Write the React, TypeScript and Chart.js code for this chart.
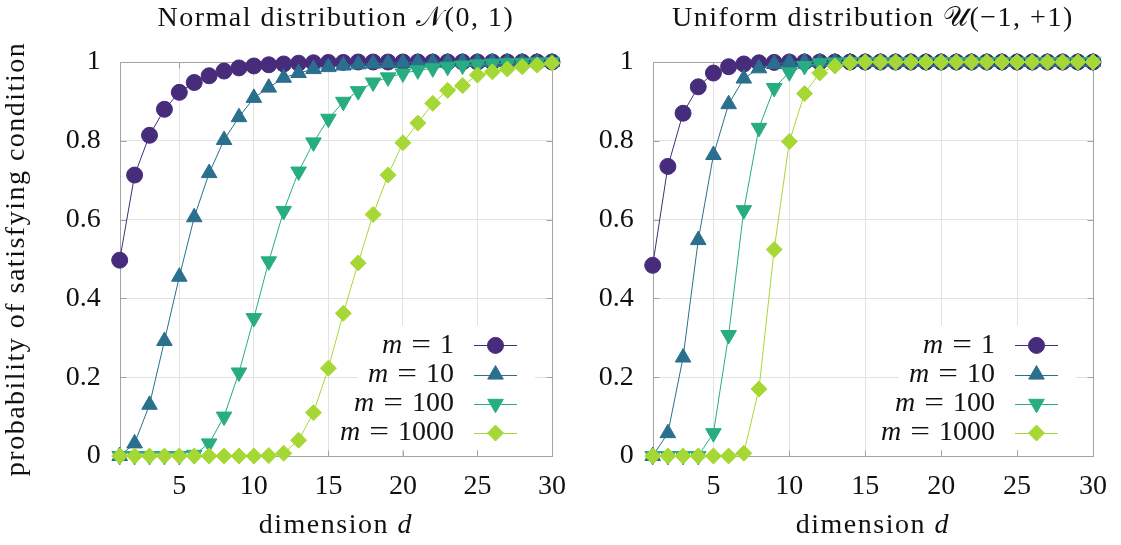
import React, { useEffect, useRef } from "react";
import { Chart, registerables } from "chart.js";

Chart.register(...registerables);

// ---------------- data ----------------
const dims = [1, 2, 3, 4, 5, 6, 7, 8, 9, 10, 11, 12, 13, 14, 15, 16, 17, 18, 19, 20, 21, 22, 23, 24, 25, 26, 27, 28, 29, 30];
const mLabels = ["1", "10", "100", "1000"];

const normalM1 = [0.497, 0.713, 0.814, 0.880, 0.923, 0.948, 0.965, 0.977, 0.985, 0.990, 0.993, 0.995, 0.997, 0.998, 0.999, 0.999, 1, 1, 1, 1, 1, 1, 1, 1, 1, 1, 1, 1, 1, 1];
const normalM10 = [0.0, 0.032, 0.130, 0.292, 0.455, 0.606, 0.718, 0.802, 0.860, 0.909, 0.935, 0.960, 0.972, 0.982, 0.987, 0.991, 0.994, 0.996, 0.997, 0.998, 0.999, 0.999, 1, 1, 1, 1, 1, 1, 1, 1];
const normalM100 = [0.0, 0.0, 0.0, 0.0, 0.0, 0.003, 0.032, 0.100, 0.212, 0.350, 0.494, 0.622, 0.722, 0.796, 0.856, 0.899, 0.926, 0.948, 0.961, 0.971, 0.979, 0.984, 0.988, 0.991, 0.994, 0.996, 0.997, 0.998, 0.999, 1.0];
const normalM1000 = [0.0, 0.0, 0.0, 0.0, 0.0, 0.0, 0.0, 0.0, 0.0, 0.0, 0.001, 0.007, 0.040, 0.110, 0.223, 0.362, 0.490, 0.613, 0.713, 0.795, 0.845, 0.895, 0.928, 0.940, 0.967, 0.975, 0.982, 0.988, 0.992, 0.997];

const uniformM1 = [0.484, 0.735, 0.870, 0.937, 0.972, 0.988, 0.995, 0.998, 0.999, 1, 1, 1, 1, 1, 1, 1, 1, 1, 1, 1, 1, 1, 1, 1, 1, 1, 1, 1, 1, 1];
const uniformM10 = [0.0, 0.058, 0.250, 0.548, 0.764, 0.893, 0.958, 0.984, 0.995, 0.999, 1, 1, 1, 1, 1, 1, 1, 1, 1, 1, 1, 1, 1, 1, 1, 1, 1, 1, 1, 1];
const uniformM100 = [0.0, 0.0, 0.0, 0.0, 0.058, 0.307, 0.624, 0.833, 0.934, 0.974, 0.990, 0.997, 0.999, 1, 1, 1, 1, 1, 1, 1, 1, 1, 1, 1, 1, 1, 1, 1, 1, 1];
const uniformM1000 = [0.0, 0.0, 0.0, 0.0, 0.0, 0.0, 0.007, 0.170, 0.524, 0.798, 0.920, 0.972, 0.990, 0.998, 1, 1, 1, 1, 1, 1, 1, 1, 1, 1, 1, 1, 1, 1, 1, 1];

const xTickValues = [5, 10, 15, 20, 25, 30];
const yTickValues = [0, 0.2, 0.4, 0.6, 0.8, 1];
const yTickLabels = ["0", "0.2", "0.4", "0.6", "0.8", "1"];

const normalTitle = "Normal distribution \u{1D4A9}(0, 1)";
const uniformTitle = "Uniform distribution \u{1D4B0}(\u22121, +1)";
const xTitleText = "dimension ";
const xTitleVar = "d";
const yTitleText = "probability of satisfying condition";

// ---------------- styles ----------------
const FONT = "'Times New Roman', 'Liberation Serif', Tinos, Times, serif";
const FS = 28;
const TEXT = "#111111";
const COLORS = ["#472c7b", "#2a6f8d", "#27ad81", "#a6d835"];
const STYLES = ["circle", "triangle", "triangle", "rectRot"];
const ROTATIONS = [0, 0, 180, 0];
const RADII = [8, 9, 9, 8];
const GRID = "#e2e2e2";
const FRAME = "#a3a3a3";

type PanelCfg = {
  title: string;
  series: number[][];
  showYTitle: boolean;
  yAxisWidth: number;
  padRight: number;
  width: number;
};

function drawMarker(ctx: CanvasRenderingContext2D, i: number, x: number, y: number) {
  const r = RADII[i];
  ctx.save();
  ctx.fillStyle = COLORS[i];
  ctx.strokeStyle = COLORS[i];
  ctx.lineWidth = 1;
  ctx.beginPath();
  const st = STYLES[i];
  if (st === "circle") {
    ctx.arc(x, y, r, 0, Math.PI * 2);
  } else if (st === "triangle") {
    const rot = (ROTATIONS[i] * Math.PI) / 180;
    for (let k = 0; k < 3; k++) {
      const a = rot + (k * 2 * Math.PI) / 3;
      const px = x + Math.sin(a) * r;
      const py = y - Math.cos(a) * r;
      if (k === 0) ctx.moveTo(px, py);
      else ctx.lineTo(px, py);
    }
    ctx.closePath();
  } else {
    ctx.moveTo(x, y - r);
    ctx.lineTo(x + r, y);
    ctx.lineTo(x, y + r);
    ctx.lineTo(x - r, y);
    ctx.closePath();
  }
  ctx.fill();
  ctx.stroke();
  ctx.restore();
}

const framePlugin = {
  id: "frameTicks",
  beforeDatasetsDraw(chart: any) {
    const { ctx, chartArea, scales } = chart;
    const { left, right, top, bottom } = chartArea;
    ctx.save();
    ctx.strokeStyle = FRAME;
    ctx.lineWidth = 1;
    const L = Math.round(left) + 0.5;
    const R = Math.round(right) + 0.5;
    const T = Math.round(top) + 0.5;
    const B = Math.round(bottom) + 0.5;
    ctx.strokeRect(L, T, R - L, B - T);
    ctx.beginPath();
    const tl = 6;
    xTickValues.forEach((v) => {
      const px = Math.round(scales.x.getPixelForValue(v)) + 0.5;
      ctx.moveTo(px, B);
      ctx.lineTo(px, B - tl);
      ctx.moveTo(px, T);
      ctx.lineTo(px, T + tl);
    });
    yTickValues.forEach((v) => {
      const py = Math.round(scales.y.getPixelForValue(v)) + 0.5;
      ctx.moveTo(L, py);
      ctx.lineTo(L + tl, py);
      ctx.moveTo(R, py);
      ctx.lineTo(R - tl, py);
    });
    ctx.stroke();
    ctx.restore();
  },
};

const legendPlugin = {
  id: "mLegend",
  afterDatasetsDraw(chart: any) {
    const { ctx, chartArea } = chart;
    const lineR = chartArea.right - 35;
    const lineL = lineR - 43;
    const markX = lineR - 21.5;
    const textR = chartArea.right - 98;
    const rowH = 29.2;
    const lastY = chartArea.bottom - 23;
    const gap = 9;
    ctx.save();
    ctx.textBaseline = "middle";
    ctx.textAlign = "right";
    const rows = mLabels.map((lab, i) => {
      const y = lastY - (mLabels.length - 1 - i) * rowH;
      ctx.font = `${FS}px ${FONT}`;
      const numW = ctx.measureText(lab).width;
      const eqW = ctx.measureText("=").width;
      ctx.font = `italic ${FS}px ${FONT}`;
      const mW = ctx.measureText("m").width;
      return { lab, y, numW, eqW, mW, total: numW + gap + eqW + gap + mW };
    });
    ctx.fillStyle = "#ffffff";
    rows.forEach((r, i) => {
      const t = i === 0 ? r.y - rowH / 2 - 5 : r.y - rowH / 2;
      const b = i === rows.length - 1 ? r.y + rowH / 2 + 2 : r.y + rowH / 2;
      const l = textR - r.total - 14;
      ctx.fillRect(l, t, lineR + 18 - l, b - t);
    });
    rows.forEach((r, i) => {
      ctx.fillStyle = TEXT;
      ctx.font = `${FS}px ${FONT}`;
      ctx.fillText(r.lab, textR, r.y);
      const eqR = textR - r.numW - gap;
      ctx.save();
      ctx.translate(eqR, r.y);
      ctx.scale(1.25, 1);
      ctx.fillText("=", 0, 0);
      ctx.restore();
      ctx.font = `italic ${FS}px ${FONT}`;
      ctx.fillText("m", eqR - r.eqW * 1.25 - gap, r.y);
      ctx.strokeStyle = COLORS[i];
      ctx.lineWidth = 1;
      ctx.beginPath();
      ctx.moveTo(lineL, Math.round(r.y) + 0.5);
      ctx.lineTo(lineR, Math.round(r.y) + 0.5);
      ctx.stroke();
      drawMarker(ctx, i, markX, r.y);
    });
    ctx.restore();
  },
};

function makeTitlesPlugin(title: string, showYTitle: boolean) {
  return {
    id: "titles",
    afterDraw(chart: any) {
      const { ctx, chartArea } = chart;
      const cx = (chartArea.left + chartArea.right) / 2;
      ctx.save();
      try {
        (ctx as any).letterSpacing = "1.5px";
      } catch (e) {}
      ctx.fillStyle = TEXT;
      ctx.textBaseline = "middle";
      ctx.textAlign = "center";
      ctx.font = `${FS}px ${FONT}`;
      ctx.fillText(title, cx, 19);
      ctx.textAlign = "left";
      const w1 = ctx.measureText(xTitleText).width;
      ctx.font = `italic ${FS}px ${FONT}`;
      const w2 = ctx.measureText(xTitleVar).width;
      const x0 = cx - (w1 + w2) / 2;
      ctx.font = `${FS}px ${FONT}`;
      ctx.fillText(xTitleText, x0, 526);
      ctx.font = `italic ${FS}px ${FONT}`;
      ctx.fillText(xTitleVar, x0 + w1, 526);
      if (showYTitle) {
        ctx.font = `${FS}px ${FONT}`;
        ctx.textAlign = "center";
        ctx.translate(17, (chartArea.top + chartArea.bottom) / 2);
        ctx.rotate(-Math.PI / 2);
        ctx.fillText(yTitleText, 0, 0);
      }
      ctx.restore();
    },
  };
}

function Panel({ cfg }: { cfg: PanelCfg }) {
  const ref = useRef<HTMLCanvasElement | null>(null);
  useEffect(() => {
    if (!ref.current) return;
    const datasets = cfg.series.map((s, i) => ({
      label: `m = ${mLabels[i]}`,
      data: dims.map((d, k) => ({ x: d, y: s[k] })),
      borderColor: COLORS[i],
      backgroundColor: COLORS[i],
      borderWidth: 1,
      pointStyle: STYLES[i] as any,
      pointRotation: ROTATIONS[i],
      pointRadius: RADII[i],
      pointBorderWidth: 1,
      pointBorderColor: COLORS[i],
      pointBackgroundColor: COLORS[i],
      tension: 0,
      clip: false as any,
      order: cfg.series.length - 1 - i,
    }));
    const chart = new Chart(ref.current, {
      type: "line",
      data: { datasets },
      options: {
        animation: false,
        responsive: false,
        devicePixelRatio: 1,
        events: [],
        layout: { padding: { top: 62, right: cfg.padRight, left: 0, bottom: 0 } },
        plugins: {
          legend: { display: false },
          title: { display: false },
          tooltip: { enabled: false },
        },
        scales: {
          x: {
            type: "linear",
            min: 1,
            max: 30,
            afterBuildTicks: (s: any) => {
              s.ticks = xTickValues.map((v) => ({ value: v }));
            },
            afterFit: (s: any) => {
              s.height = 89;
            },
            grid: { color: GRID, lineWidth: 1, drawTicks: false },
            border: { display: false },
            ticks: {
              font: { family: FONT, size: FS },
              color: TEXT,
              padding: 14,
              autoSkip: false,
              maxRotation: 0,
              callback: (v: any) => String(v),
            },
          },
          y: {
            type: "linear",
            min: 0,
            max: 1,
            afterBuildTicks: (s: any) => {
              s.ticks = yTickValues.map((v) => ({ value: v }));
            },
            afterFit: (s: any) => {
              s.width = cfg.yAxisWidth;
            },
            grid: { color: GRID, lineWidth: 1, drawTicks: false },
            border: { display: false },
            ticks: {
              font: { family: FONT, size: FS },
              color: TEXT,
              padding: 19,
              autoSkip: false,
              callback: (_v: any, idx: number) => yTickLabels[idx],
            },
          },
        },
      },
      plugins: [framePlugin, legendPlugin, makeTitlesPlugin(cfg.title, cfg.showYTitle)],
    } as any);
    return () => chart.destroy();
  }, [cfg]);
  return <canvas ref={ref} width={cfg.width} height={545} style={{ display: "block" }} />;
}

const leftCfg: PanelCfg = {
  title: normalTitle,
  series: [normalM1, normalM10, normalM100, normalM1000],
  showYTitle: true,
  yAxisWidth: 119.7,
  padRight: 15.7,
  width: 580,
};
const rightCfg: PanelCfg = {
  title: uniformTitle,
  series: [uniformM1, uniformM10, uniformM100, uniformM1000],
  showYTitle: false,
  yAxisWidth: 72.7,
  padRight: 20.3,
  width: 541,
};

export default function App() {
  return (
    <div style={{ position: "absolute", left: 0, top: 0, width: 1121, height: 545, background: "#fff", display: "flex" }}>
      <Panel cfg={leftCfg} />
      <Panel cfg={rightCfg} />
    </div>
  );
}
